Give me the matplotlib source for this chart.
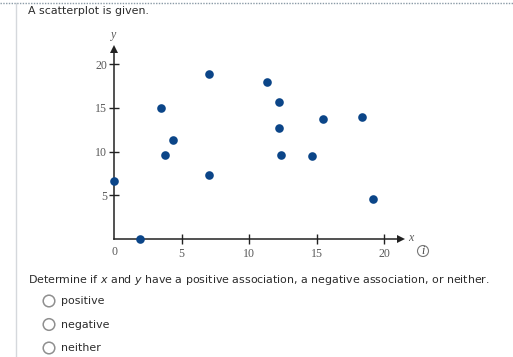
#! /usr/bin/env python

import matplotlib
matplotlib.use("Agg")
import matplotlib.pyplot as plt
from matplotlib.patches import Circle

x_values = [0, 1.9, 3.5, 3.8, 4.4, 7, 7, 11.3, 12.2, 12.2, 12.4, 14.7, 15.5, 18.4, 19.2]
y_values = [6.65, 0, 15, 9.6, 11.3, 18.9, 7.35, 18, 15.65, 12.7, 9.6, 9.5, 13.7, 14, 4.6]
x_ticks = [5, 10, 15, 20]
y_ticks = [5, 10, 15, 20]
options = ["positive", "negative", "neither"]

W = 513
H = 357
text_color = "#2b2b2b"
label_color = "#5a5a5a"
dot_color = "#0b4588"

fig = plt.figure(figsize=(W / 100, H / 100), dpi=100, facecolor="white")

# page layer, works in pixels of the screenshot
page = fig.add_axes([0, 0, 1, 1])
page.set_xlim(0, W)
page.set_ylim(H, 0)
page.axis("off")

page.plot([0, W], [2.5, 2.5], color="#8a9aa6", lw=1, ls=(0, (1, 1)))
page.plot([15.5, 15.5], [3, H], color="#d5d8dc", lw=1)

page.text(28, 11, "A scatterplot is given.", fontsize=7.9, color=text_color,
	family="DejaVu Sans", va="center")
page.text(28, 280, "Determine if $\\mathit{x}$ and $\\mathit{y}$ have a positive association, a negative association, or neither.",
	fontsize=7.9, color=text_color, family="DejaVu Sans", va="center")

for i, name in enumerate(options):
	cy = [301, 324.5, 348][i]
	page.add_patch(Circle((49, cy), 5.8, fc="white", ec="#8f8f8f", lw=1.1))
	page.text(61, cy, name, fontsize=7.9, color=text_color, family="DejaVu Sans", va="center")

page.add_patch(Circle((423, 251), 5.5, fc="white", ec="#777777", lw=0.8))
page.text(423, 251, "i", fontsize=8.6, style="italic", color="#444444",
	family="Liberation Serif", ha="center", va="center")

# chart layer: x 0 at 114px, 13.5px per unit; y 0 at 239px, 8.74px per unit
x_max = 21.25
y_max = 21.7
ax = fig.add_axes([114 / W, 1 - 239 / H, x_max * 13.5 / W, y_max * 8.74 / H])
ax.patch.set_visible(False)
ax.set_xlim(0, x_max)
ax.set_ylim(0, y_max)

for side in ["top", "right"]:
	ax.spines[side].set_visible(False)
for side in ["left", "bottom"]:
	ax.spines[side].set_linewidth(1.1)
	ax.spines[side].set_color("#222222")

ax.set_xticks(x_ticks)
ax.set_yticks(y_ticks)
ax.tick_params(axis="both", direction="inout", length=7.5, width=1, color="#222222",
	labelsize=8.6, labelcolor=label_color)
ax.tick_params(axis="x", pad=2.5)
ax.tick_params(axis="y", pad=1)
for label in ax.get_xticklabels() + ax.get_yticklabels():
	label.set_family("Liberation Serif")

ax.plot(x_values, y_values, "o", color=dot_color, ms=6.2, mew=0, clip_on=False, zorder=5)

# axis arrows and names
ax.plot(1, 0, ">", color="#222222", ms=6, mew=0, transform=ax.transAxes, clip_on=False)
ax.plot(0, 1, "^", color="#222222", ms=6, mew=0, transform=ax.transAxes, clip_on=False)
ax.text(21.95, 0.1, "x", fontsize=8.6, style="italic", color=label_color,
	family="Liberation Serif", ha="center", va="center")
ax.text(0, 23.3, "y", fontsize=8.6, style="italic", color=label_color,
	family="Liberation Serif", ha="center", va="center")
ax.text(0, -1.5, "0", fontsize=8.6, color=label_color,
	family="Liberation Serif", ha="center", va="center")

fig.savefig("out.png", dpi=100)
